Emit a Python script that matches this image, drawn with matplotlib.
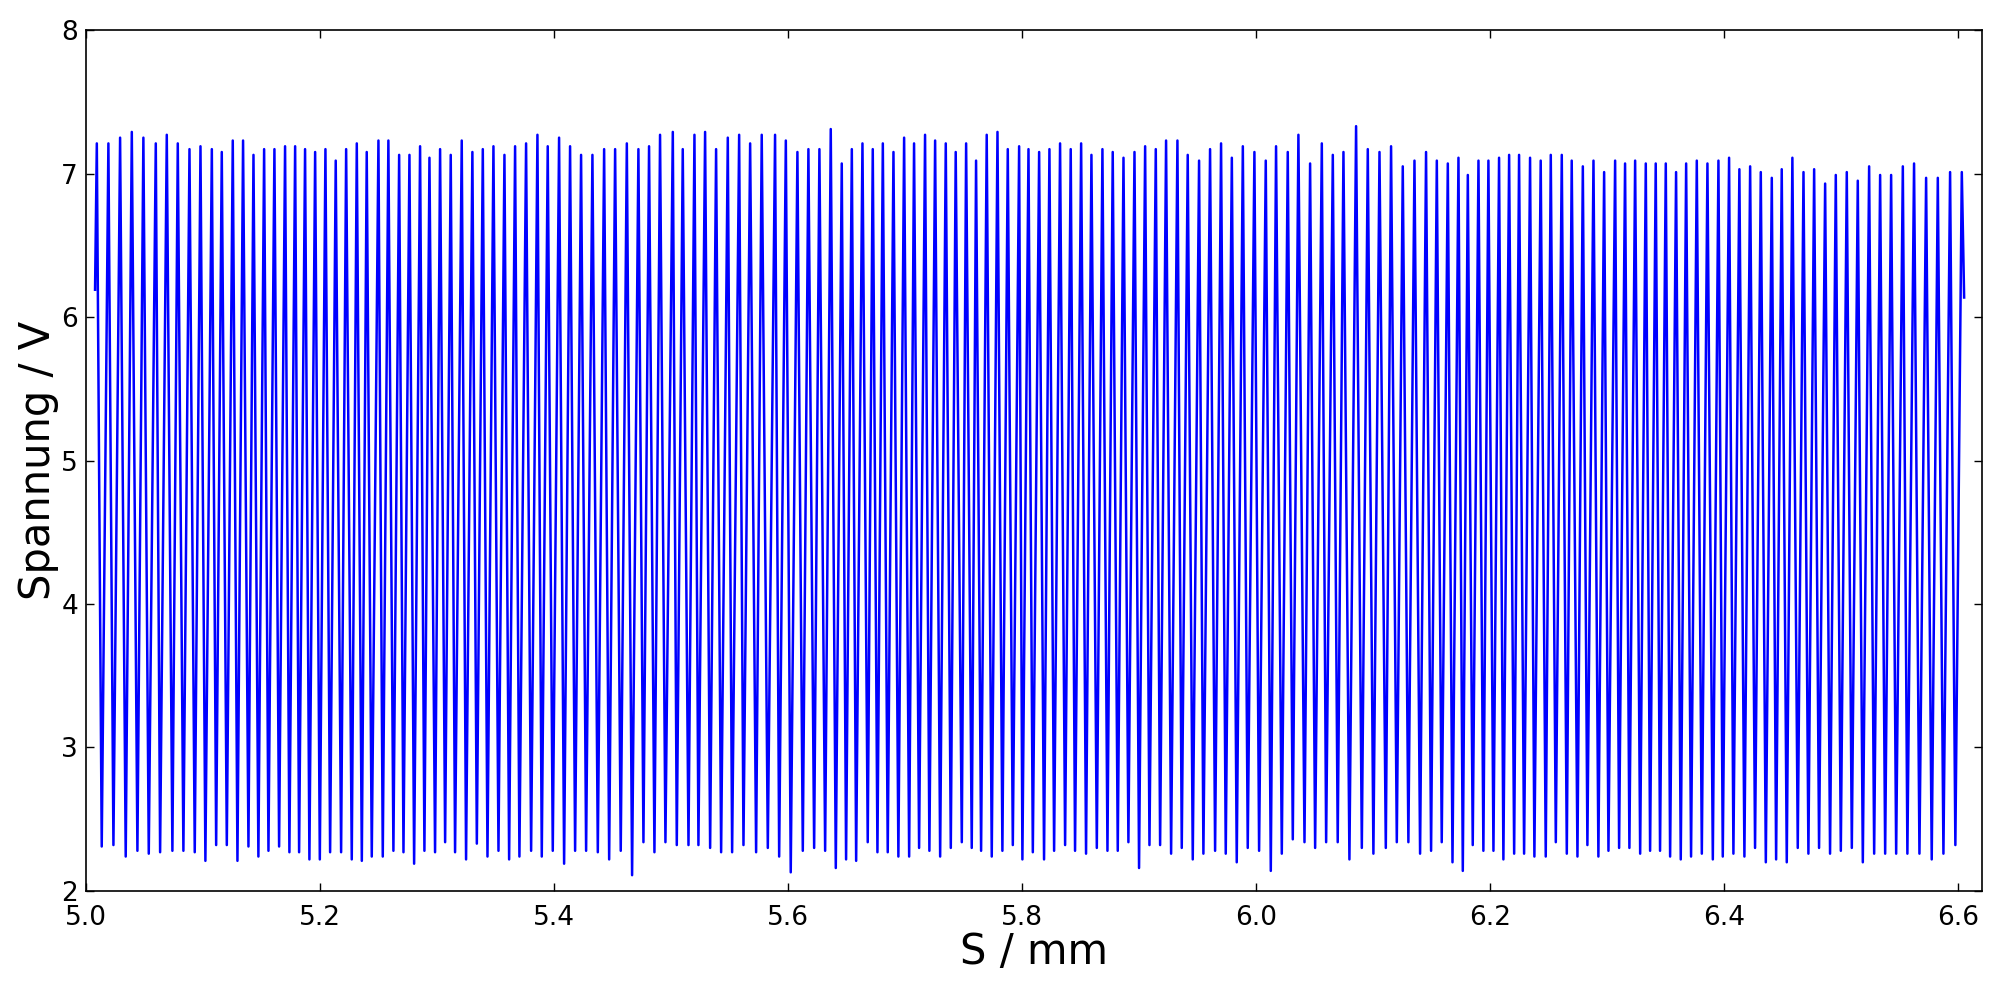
import numpy as np
import matplotlib
matplotlib.use("Agg")
import matplotlib.pyplot as plt


# Messpunkte: Anfang, Maxima, Minima, Ende
s_start, u_start = 5.0074, 6.19
s_end, u_end = 6.6049, 6.136

peak_s = [
    5.0089, 5.0188, 5.0288, 5.0388, 5.0487, 5.0593, 5.0687, 5.0781, 5.0881, 5.0975,
    5.1072, 5.1157, 5.1251, 5.1339, 5.1428, 5.1519, 5.1607, 5.1698, 5.1784, 5.1869,
    5.1955, 5.2043, 5.2131, 5.2220, 5.2311, 5.2396, 5.2496, 5.2581, 5.2673, 5.2761,
    5.2852, 5.2932, 5.3023, 5.3114, 5.3208, 5.3299, 5.3388, 5.3479, 5.3573, 5.3664,
    5.3758, 5.3855, 5.3943, 5.4040,
    5.4134, 5.4228, 5.4325, 5.4425, 5.4519, 5.4619, 5.4718, 5.4809, 5.4903, 5.5012,
    5.5097, 5.5197, 5.5288, 5.5382, 5.5482, 5.5579, 5.5673, 5.5772, 5.5886, 5.5978,
    5.6077, 5.6171, 5.6265, 5.6362, 5.6456, 5.6542, 5.6633, 5.6721, 5.6807, 5.6898,
    5.6989, 5.7074, 5.7168, 5.7254, 5.7345, 5.7430, 5.7519, 5.7604, 5.7695, 5.7787,
    5.7875, 5.7972, 5.8052, 5.8143,
    5.8231, 5.8322, 5.8413, 5.8502, 5.8590, 5.8684, 5.8772, 5.8864, 5.8958, 5.9049,
    5.9140, 5.9228, 5.9325, 5.9413, 5.9510, 5.9604, 5.9698, 5.9790, 5.9884, 5.9983,
    6.0080, 6.0168, 6.0268, 6.0359, 6.0459, 6.0559, 6.0653, 6.0744, 6.0852, 6.0952,
    6.1052, 6.1151, 6.1251, 6.1351, 6.1450, 6.1542, 6.1636, 6.1727, 6.1807, 6.1898,
    6.1983, 6.2074, 6.2160, 6.2245,
    6.2339, 6.2430, 6.2516, 6.2610, 6.2695, 6.2790, 6.2881, 6.2972, 6.3066, 6.3151,
    6.3237, 6.3328, 6.3413, 6.3499, 6.3587, 6.3673, 6.3764, 6.3855, 6.3949, 6.4040,
    6.4128, 6.4220, 6.4311, 6.4405, 6.4490, 6.4581, 6.4676, 6.4767, 6.4861, 6.4952,
    6.5046, 6.5140, 6.5237, 6.5331, 6.5425, 6.5525, 6.5621, 6.5724, 6.5824, 6.5929,
    6.6029,
]

peak_u = [
    7.21, 7.21, 7.25, 7.29, 7.25, 7.21, 7.27, 7.21, 7.17, 7.19,
    7.17, 7.15, 7.23, 7.23, 7.13, 7.17, 7.17, 7.19, 7.19, 7.17,
    7.15, 7.17, 7.09, 7.17, 7.21, 7.15, 7.23, 7.23, 7.13, 7.13,
    7.19, 7.11, 7.17, 7.13, 7.23, 7.15, 7.17, 7.19, 7.13, 7.19,
    7.21, 7.27, 7.19, 7.25,
    7.19, 7.13, 7.13, 7.17, 7.17, 7.21, 7.17, 7.19, 7.27, 7.29,
    7.17, 7.27, 7.29, 7.17, 7.25, 7.27, 7.21, 7.27, 7.27, 7.23,
    7.15, 7.17, 7.17, 7.31, 7.07, 7.17, 7.21, 7.17, 7.21, 7.15,
    7.25, 7.21, 7.27, 7.23, 7.21, 7.15, 7.21, 7.09, 7.27, 7.29,
    7.17, 7.19, 7.17, 7.15,
    7.17, 7.21, 7.17, 7.21, 7.13, 7.17, 7.15, 7.11, 7.15, 7.19,
    7.17, 7.23, 7.23, 7.13, 7.09, 7.17, 7.21, 7.11, 7.19, 7.15,
    7.09, 7.19, 7.15, 7.27, 7.07, 7.21, 7.13, 7.15, 7.33, 7.17,
    7.15, 7.19, 7.05, 7.09, 7.15, 7.09, 7.07, 7.11, 6.99, 7.09,
    7.09, 7.11, 7.13, 7.13,
    7.11, 7.09, 7.13, 7.13, 7.09, 7.05, 7.09, 7.01, 7.09, 7.07,
    7.09, 7.07, 7.07, 7.07, 7.01, 7.07, 7.09, 7.07, 7.09, 7.11,
    7.03, 7.05, 7.01, 6.97, 7.03, 7.11, 7.01, 7.03, 6.93, 6.99,
    7.01, 6.95, 7.05, 6.99, 6.99, 7.05, 7.07, 6.97, 6.97, 7.01,
    7.01,
]

trough_s = [
    5.0131, 5.0231, 5.0336, 5.0436, 5.0533, 5.0630, 5.0735, 5.0829, 5.0926, 5.1017,
    5.1109, 5.1200, 5.1291, 5.1385, 5.1470, 5.1556, 5.1647, 5.1735, 5.1818, 5.1906,
    5.1995, 5.2083, 5.2177, 5.2268, 5.2354, 5.2439, 5.2533, 5.2624, 5.2710, 5.2801,
    5.2889, 5.2980, 5.3066, 5.3151, 5.3245, 5.3337, 5.3428, 5.3522, 5.3613, 5.3701,
    5.3801, 5.3892, 5.3986,
    5.4083, 5.4177, 5.4271, 5.4371, 5.4468, 5.4567, 5.4664, 5.4761, 5.4855, 5.4949,
    5.5046, 5.5146, 5.5231, 5.5331, 5.5425, 5.5519, 5.5616, 5.5724, 5.5824, 5.5921,
    5.6020, 5.6123, 5.6220, 5.6314, 5.6405, 5.6493, 5.6579, 5.6678, 5.6761, 5.6849,
    5.6940, 5.7032, 5.7117, 5.7205, 5.7297, 5.7388, 5.7482, 5.7567, 5.7647, 5.7738,
    5.7829, 5.7918, 5.8000, 5.8089,
    5.8185, 5.8271, 5.8365, 5.8450, 5.8544, 5.8636, 5.8727, 5.8815, 5.8906, 5.8997,
    5.9086, 5.9177, 5.9271, 5.9362, 5.9456, 5.9547, 5.9647, 5.9738, 5.9832, 5.9926,
    6.0023, 6.0123, 6.0217, 6.0311, 6.0411, 6.0502, 6.0596, 6.0695, 6.0795, 6.0901,
    6.1000, 6.1106, 6.1200, 6.1299, 6.1399, 6.1493, 6.1584, 6.1676, 6.1764, 6.1849,
    6.1940, 6.2026, 6.2111, 6.2203,
    6.2288, 6.2376, 6.2473, 6.2559, 6.2653, 6.2744, 6.2829, 6.2923, 6.3009, 6.3100,
    6.3188, 6.3280, 6.3365, 6.3450, 6.3536, 6.3627, 6.3715, 6.3807, 6.3901, 6.3986,
    6.4077, 6.4171, 6.4262, 6.4354, 6.4442, 6.4533, 6.4627, 6.4718, 6.4809, 6.4903,
    6.4995, 6.5089, 6.5183, 6.5280, 6.5374, 6.5468, 6.5564, 6.5667, 6.5772, 6.5872,
    6.5974,
]

trough_u = [
    2.31, 2.32, 2.24, 2.28, 2.26, 2.27, 2.28, 2.28, 2.27, 2.21,
    2.32, 2.32, 2.21, 2.31, 2.24, 2.28, 2.31, 2.27, 2.27, 2.22,
    2.22, 2.27, 2.27, 2.22, 2.21, 2.24, 2.24, 2.28, 2.27, 2.19,
    2.28, 2.27, 2.34, 2.27, 2.22, 2.33, 2.24, 2.28, 2.22, 2.24,
    2.28, 2.24, 2.28,
    2.19, 2.28, 2.28, 2.27, 2.22, 2.28, 2.11, 2.34, 2.27, 2.34,
    2.32, 2.32, 2.32, 2.30, 2.27, 2.27, 2.32, 2.27, 2.30, 2.24,
    2.13, 2.28, 2.30, 2.28, 2.16, 2.22, 2.21, 2.34, 2.27, 2.27,
    2.24, 2.24, 2.30, 2.28, 2.24, 2.30, 2.34, 2.30, 2.28, 2.24,
    2.28, 2.32, 2.22, 2.27,
    2.22, 2.28, 2.32, 2.28, 2.26, 2.30, 2.28, 2.28, 2.34, 2.16,
    2.32, 2.32, 2.26, 2.30, 2.22, 2.26, 2.28, 2.26, 2.20, 2.30,
    2.28, 2.14, 2.26, 2.36, 2.34, 2.30, 2.34, 2.34, 2.22, 2.30,
    2.26, 2.30, 2.34, 2.34, 2.26, 2.28, 2.34, 2.20, 2.14, 2.32,
    2.28, 2.28, 2.22, 2.26,
    2.26, 2.24, 2.24, 2.34, 2.26, 2.24, 2.32, 2.24, 2.28, 2.30,
    2.30, 2.26, 2.28, 2.28, 2.24, 2.22, 2.24, 2.26, 2.22, 2.24,
    2.26, 2.24, 2.30, 2.20, 2.22, 2.20, 2.30, 2.26, 2.30, 2.26,
    2.28, 2.30, 2.20, 2.26, 2.26, 2.26, 2.26, 2.26, 2.22, 2.26,
    2.32,
]


# Maxima und Minima abwechselnd zu einer Kurve zusammensetzen
s = [s_start]
u = [u_start]
for i in range(len(peak_s)):
    s.append(peak_s[i])
    u.append(peak_u[i])
    if i < len(trough_s):
        s.append(trough_s[i])
        u.append(trough_u[i])
s.append(s_end)
u.append(u_end)

fig = plt.figure(figsize=(20, 9.88), dpi=100)
ax = fig.add_axes([0.0432, 0.0982, 0.9477, 0.8714])

ax.plot(s, u, color="b", linewidth=1.8)

ax.set_xlim(5.0, 6.62)
ax.set_ylim(2, 8)
ax.set_xticks(np.arange(5.0, 6.61, 0.2))

ax.tick_params(direction="in", top=True, right=True, length=6, width=1,
               labelsize=19)
ax.tick_params(axis="x", pad=10)
ax.tick_params(axis="y", pad=6)
for sp in ax.spines.values():
    sp.set_linewidth(1.2)

ax.set_xlabel("S / mm", fontsize=30, labelpad=0)
ax.set_ylabel("Spannung / V", fontsize=30, labelpad=2)

fig.savefig("out.png", dpi=100, facecolor="white")
